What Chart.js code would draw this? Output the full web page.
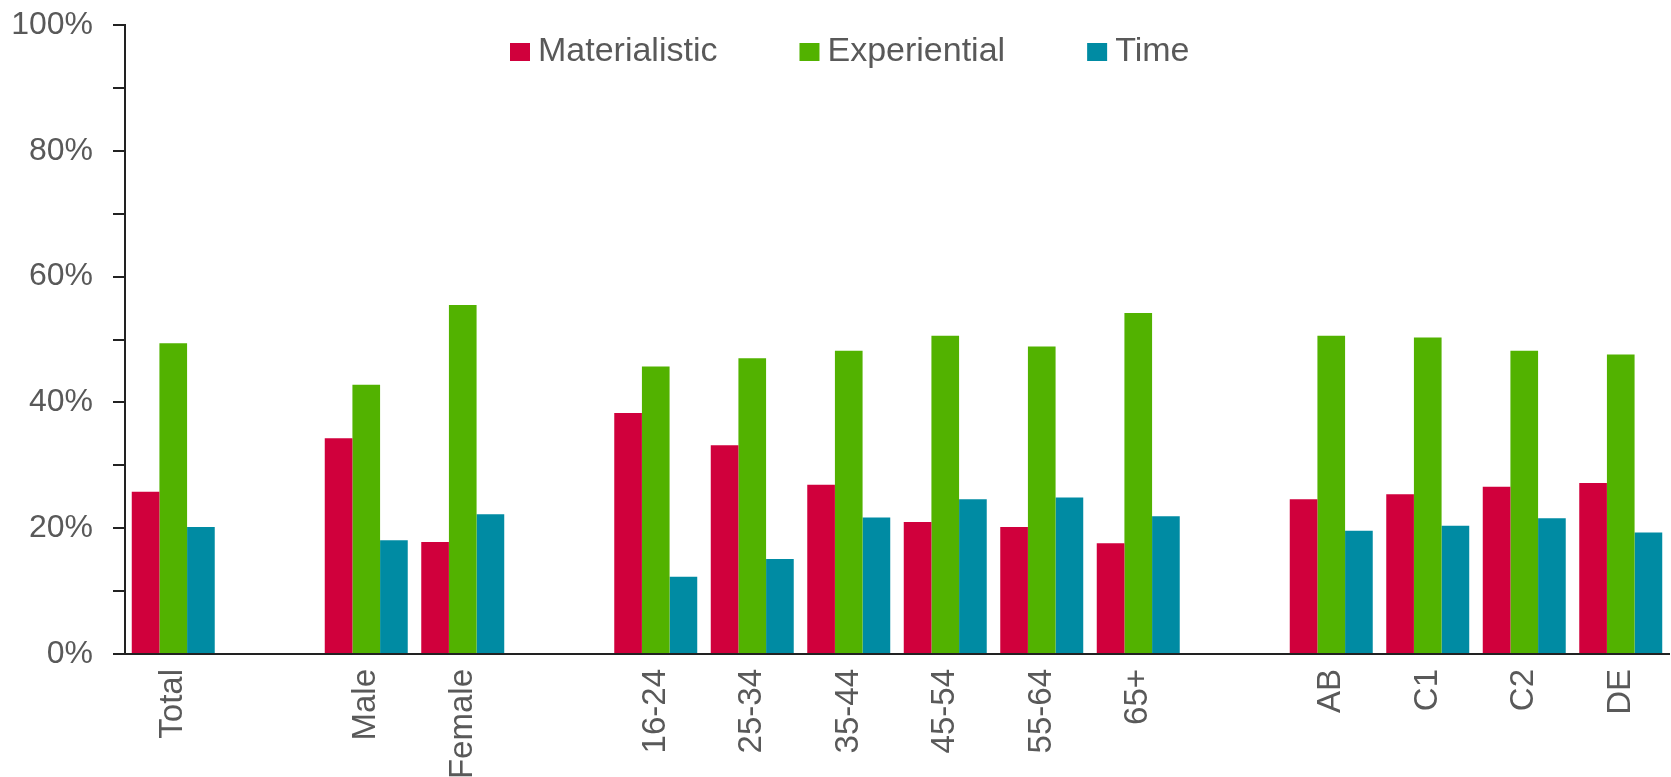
<!DOCTYPE html>
<html>
<head>
<meta charset="utf-8">
<script src="https://cdn.jsdelivr.net/npm/chart.js@4"></script>
<style>
html,body{margin:0;padding:0;background:#fff;}
#wrap{width:1671px;height:777px;position:relative;}
</style>
</head>
<body>
<div id="wrap"><canvas id="c" width="1671" height="777"></canvas></div>
<script>
const categories = ['Total','','Male','Female','','16-24','25-34','35-44','45-54','55-64','65+','','AB','C1','C2','DE'];
const materialistic = [25.8,null,34.3,17.8,null,38.3,33.2,26.9,21.0,20.2,17.6,null,24.6,25.4,26.6,27.2];
const experiential  = [49.4,null,42.8,55.5,null,45.7,47.0,48.2,50.6,48.9,54.2,null,50.6,50.3,48.2,47.6];
const time          = [20.2,null,18.1,22.2,null,12.3,15.1,21.7,24.6,24.9,21.9,null,19.6,20.4,21.6,19.3];
const seriesNames = ['Materialistic','Experiential','Time'];
const seriesColors = ['#D0003C','#52B200','#008BA3'];
const yTicks = [0,20,40,60,80,100];

const FONT = "'Liberation Sans', Arial, sans-serif";
const TEXT = '#595959';

const legendPlugin = {
  id: 'customLegend',
  afterDraw(chart) {
    const ctx = chart.ctx;
    ctx.save();
    ctx.font = "34px " + FONT;
    ctx.textBaseline = 'middle';
    ctx.textAlign = 'left';
    let x = 510;
    const cy = 52;
    chart.data.datasets.forEach(ds => {
      ctx.fillStyle = ds.backgroundColor;
      ctx.fillRect(x, cy - 9, 20, 18);
      x += 28;
      ctx.fillStyle = TEXT;
      ctx.fillText(ds.label, x, cy);
      x += ctx.measureText(ds.label).width + 82;
    });
    ctx.restore();
  }
};

new Chart(document.getElementById('c'), {
  type: 'bar',
  data: {
    labels: categories,
    datasets: [materialistic, experiential, time].map((d, i) => ({
      label: seriesNames[i],
      data: d,
      backgroundColor: seriesColors[i],
      borderWidth: 0,
      categoryPercentage: 0.86,
      barPercentage: 1.0
    }))
  },
  options: {
    responsive: false,
    animation: false,
    layout: { padding: { left: 0, top: 25, right: 2, bottom: 0 } },
    plugins: {
      legend: { display: false },
      tooltip: { enabled: false }
    },
    scales: {
      x: {
        afterFit(scale) { scale.height = 123; scale.paddingLeft = 0; scale.paddingRight = 0; },
        grid: { display: false, drawTicks: false },
        border: { display: true, color: '#222', width: 2 },
        ticks: {
          autoSkip: false,
          maxRotation: 90,
          minRotation: 90,
          padding: 15,
          color: TEXT,
          font: { family: FONT, size: 33 }
        }
      },
      y: {
        min: 0,
        max: 100,
        afterFit(scale) { scale.width = 125; scale.paddingTop = 0; scale.paddingBottom = 0; },
        afterBuildTicks(scale) {
          const t = [];
          for (let v = 0; v <= 100; v += 10) t.push({ value: v });
          scale.ticks = t;
        },
        grid: { drawOnChartArea: false, drawTicks: true, tickLength: 12, color: '#222', lineWidth: 2 },
        border: { display: true, color: '#222', width: 2 },
        ticks: {
          padding: 20,
          color: TEXT,
          font: { family: FONT, size: 32 },
          callback: v => yTicks.includes(v) ? v + '%' : ''
        }
      }
    }
  },
  plugins: [legendPlugin]
});
</script>
</body>
</html>
